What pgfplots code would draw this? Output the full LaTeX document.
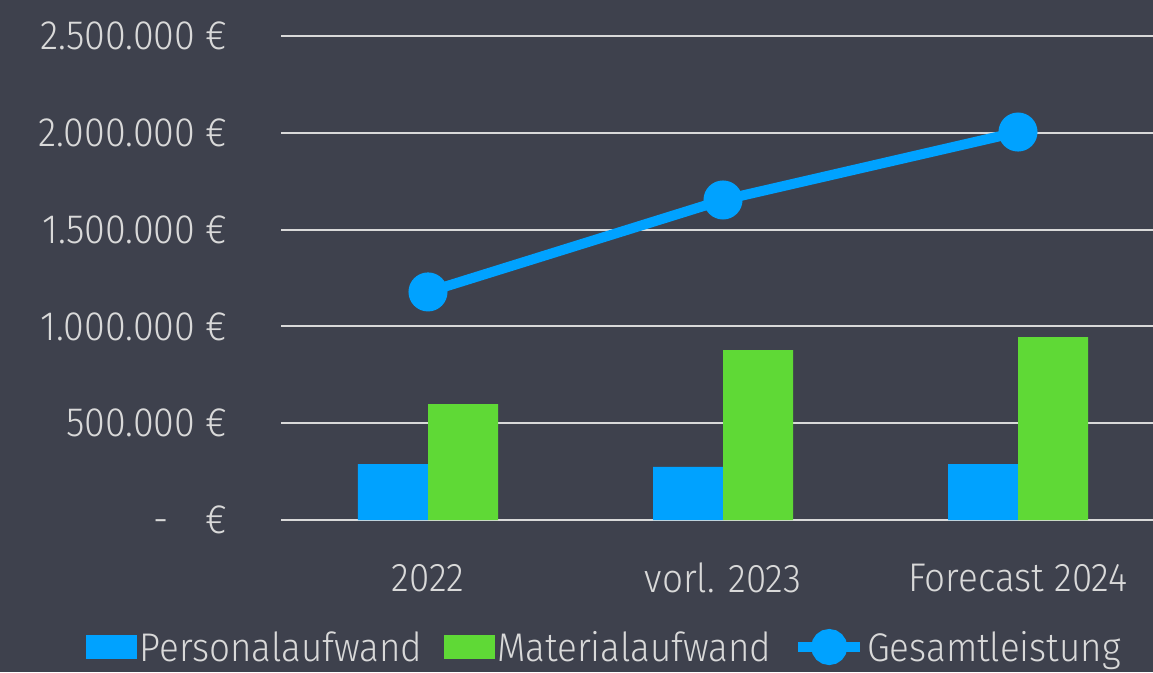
\documentclass[border=0pt]{standalone}
\usepackage{pgfplots}
\pgfplotsset{compat=1.18}
\usepackage{fontspec}
\setmainfont{Fira Sans Light}[FakeStretch=0.92]
\definecolor{bg}{HTML}{3E414D}
\definecolor{lbl}{HTML}{D9D9D9}
\definecolor{cblue}{HTML}{00A2FF}
\definecolor{cgreen}{HTML}{5FD936}
\begin{document}
\begin{tikzpicture}
\path[use as bounding box, fill=bg] (0,0) rectangle (1153pt,672pt);
\begin{axis}[
  at={(281pt,152pt)}, anchor=south west,
  scale only axis, width=872pt, height=484pt,
  xmin=-0.4983, xmax=2.4576,
  ymin=0, ymax=2500000,
  axis line style={draw=none},
  major tick length=0pt,
  xtick={0,1,2},
  xticklabels={2022, vorl. 2023, Forecast 2024},
  ytick={0,500000,1000000,1500000,2000000,2500000},
  yticklabels={{-\hspace{37pt}€}, {500.000 €}, {1.000.000 €}, {1.500.000 €}, {2.000.000 €}, {2.500.000 €}},
  scaled y ticks=false,
  ymajorgrids, grid style={lbl, line width=2pt},
  tick label style={font=\fontsize{40}{48}\selectfont, text=lbl},
  yticklabel style={anchor=east, xshift=-50pt, font=\fontsize{41}{48}\selectfont},
  xticklabel style={anchor=center, yshift=-58pt},
  legend style={at={(axis description cs:0.371,-0.2624)}, anchor=center,
    draw=none, fill=none, text=lbl, font=\fontsize{40}{48}\selectfont,
    legend columns=3,
    nodes={inner sep=2pt},
    /tikz/every even column/.append style={column sep=20pt}},
  clip=false,
]
\addplot[ybar, bar width=0.2373, bar shift=-0.11865, fill=cblue, draw=none,
  legend image code/.code={\fill[cblue] (0pt,-12pt) rectangle (51pt,12pt);}]
  coordinates {(0,289000) (1,274000) (2,289000)};
\addlegendentry{Personalaufwand}
\addplot[ybar, bar width=0.2373, bar shift=0.11865, fill=cgreen, draw=none,
  legend image code/.code={\fill[cgreen] (0pt,-12pt) rectangle (51pt,12pt);}]
  coordinates {(0,599000) (1,878000) (2,945000)};
\addlegendentry{Materialaufwand}
\addplot[cblue, line width=10pt, mark=*, mark size=14.5pt, mark options={fill=cblue, draw=none},
  legend image code/.code={\draw[cblue, line width=10pt] (0pt,0pt) -- (62pt,0pt); \fill[cblue] (31pt,0pt) circle (13pt);}]
  coordinates {(0,1178000) (1,1653000) (2,2004000)};
\addlegendentry{Gesamtleistung}
\end{axis}
\end{tikzpicture}
\end{document}
